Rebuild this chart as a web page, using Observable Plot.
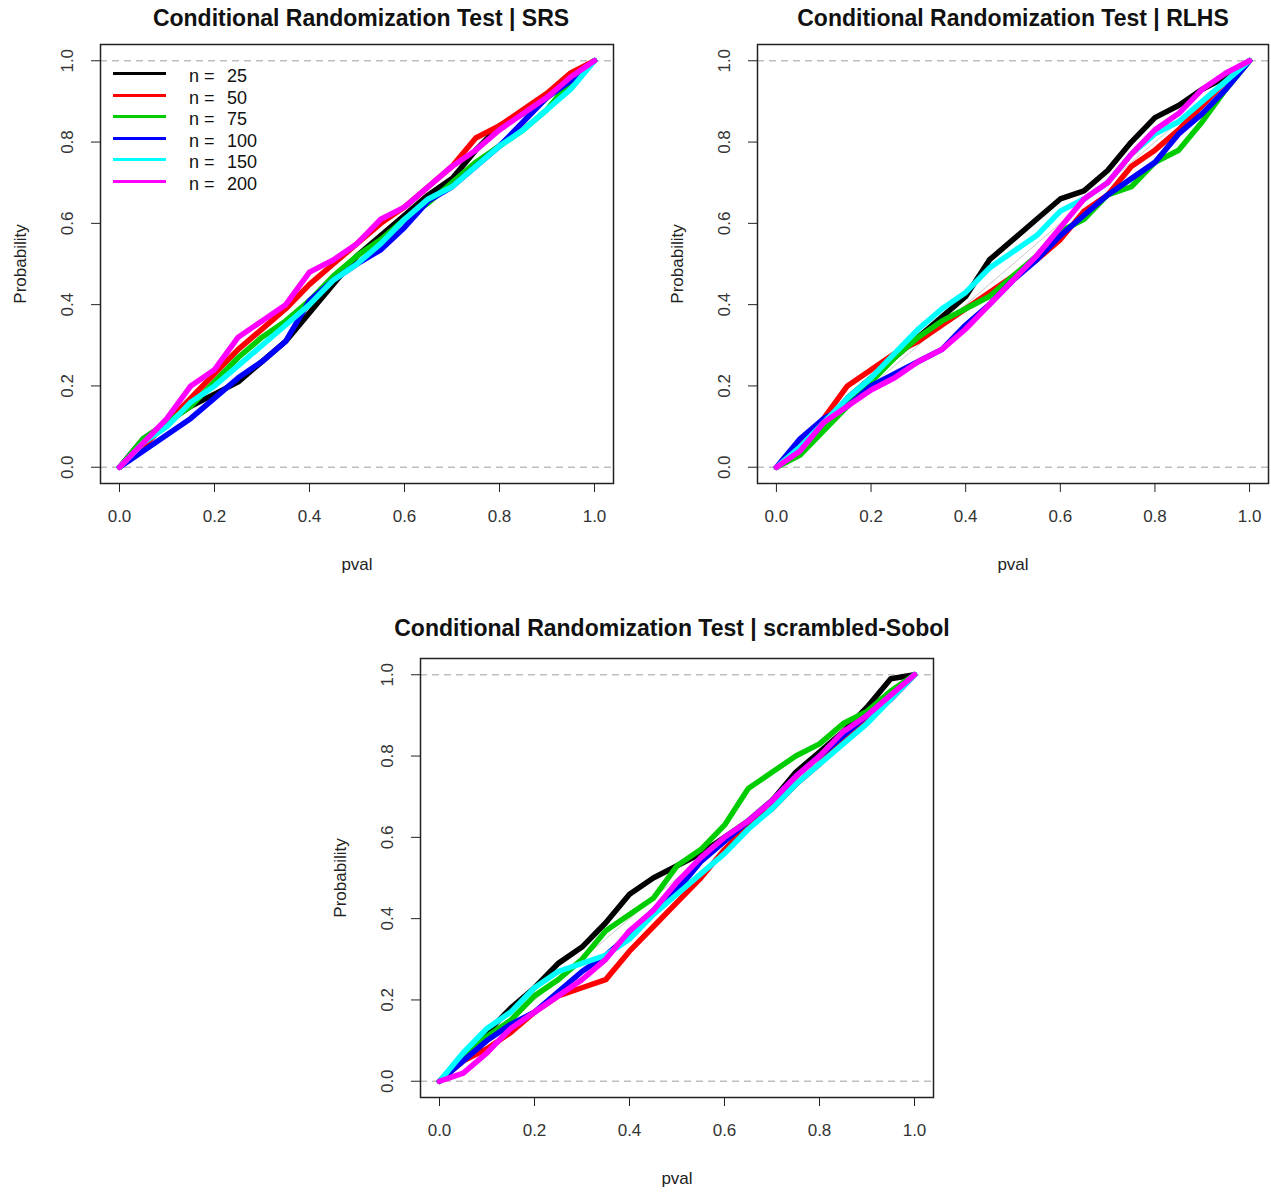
<!DOCTYPE html>
<html><head><meta charset="utf-8">
<script src="https://cdn.jsdelivr.net/npm/d3@7"></script>
<script src="https://cdn.jsdelivr.net/npm/@observablehq/plot@0.6"></script>
<style>
body{margin:0;background:#fff;}
#root{position:relative;width:1271px;height:1192px;overflow:hidden;font-family:"Liberation Sans",Arial,sans-serif;background:#fff;}
.panel{position:absolute;}
.title{position:absolute;font-weight:bold;font-size:23px;white-space:nowrap;transform:translate(-50%,-50%);color:#111;}
.legend{position:absolute;font-size:18px;color:#111;}
.legrow{position:absolute;height:22px;width:160px;}
.legrow .ln{position:absolute;left:0;width:53px;height:3px;top:9px;}
.legrow .t1{position:absolute;left:76px;top:2px;line-height:22px;}
.legrow .t2{position:absolute;left:114px;top:2px;line-height:22px;}
</style></head><body><div id="root"></div>
<script>
// ---- data ----
const pvalGrid = [0, 0.05, 0.1, 0.15, 0.2, 0.25, 0.3, 0.35, 0.4, 0.45, 0.5, 0.55, 0.6, 0.65, 0.7, 0.75, 0.8, 0.85, 0.9, 0.95, 1];
const sampleSizes = [25, 50, 75, 100, 150, 200];
const seriesColors = ["#000000", "#FF0000", "#00CD00", "#0000FF", "#00FFFF", "#FF00FF"];
const panelTitles = ["Conditional Randomization Test | SRS", "Conditional Randomization Test | RLHS", "Conditional Randomization Test | scrambled-Sobol"];
const xTicks = [0, 0.2, 0.4, 0.6, 0.8, 1.0];
const yTicks = [0, 0.2, 0.4, 0.6, 0.8, 1.0];

// SRS panel: estimated ECDF probability at each pval in pvalGrid
const srs25  = [0, .07, .11, .15, .18, .21, .26, .31, .38, .45, .52, .57, .62, .67, .71, .78, .84, .87, .91, .96, 1];
const srs50  = [0, .05, .11, .17, .23, .29, .34, .39, .45, .50, .55, .60, .64, .69, .74, .81, .84, .88, .92, .97, 1];
const srs75  = [0, .07, .11, .15, .21, .27, .32, .36, .41, .47, .52, .56, .61, .65, .70, .75, .79, .83, .88, .95, 1];
const srs100 = [0, .04, .08, .12, .17, .22, .26, .31, .41, .46, .50, .535, .59, .655, .69, .74, .79, .85, .91, .95, 1];
const srs150 = [0, .06, .10, .16, .20, .25, .30, .35, .40, .46, .50, .55, .61, .66, .69, .74, .79, .83, .88, .93, 1];
const srs200 = [0, .06, .12, .20, .24, .32, .36, .40, .48, .51, .55, .61, .64, .69, .74, .78, .83, .87, .91, .96, 1];

// RLHS panel
const rlhs25  = [0, .05, .10, .17, .22, .27, .32, .37, .42, .51, .56, .61, .66, .68, .73, .80, .86, .89, .93, .96, 1];
const rlhs50  = [0, .05, .12, .20, .24, .28, .31, .35, .39, .43, .47, .51, .56, .63, .67, .74, .78, .83, .89, .95, 1];
const rlhs75  = [0, .03, .09, .15, .21, .27, .32, .36, .39, .42, .47, .52, .58, .61, .67, .69, .75, .78, .85, .93, 1];
const rlhs100 = [0, .07, .12, .15, .20, .23, .26, .29, .35, .40, .46, .51, .57, .62, .67, .71, .75, .82, .87, .93, 1];
const rlhs150 = [0, .05, .11, .17, .22, .28, .34, .39, .43, .49, .53, .57, .63, .66, .70, .77, .82, .85, .90, .95, 1];
const rlhs200 = [0, .04, .11, .15, .19, .22, .26, .29, .34, .40, .46, .52, .59, .66, .70, .77, .83, .87, .93, .97, 1];

// scrambled-Sobol panel
const sobol25  = [0, .06, .12, .18, .23, .29, .33, .39, .46, .50, .53, .56, .60, .64, .69, .76, .81, .86, .92, .99, 1];
const sobol50  = [0, .05, .08, .12, .17, .21, .23, .25, .32, .38, .44, .50, .57, .63, .67, .73, .78, .84, .89, .94, 1];
const sobol75  = [0, .06, .11, .15, .21, .25, .30, .37, .41, .45, .53, .57, .63, .72, .76, .80, .83, .88, .91, .96, 1];
const sobol100 = [0, .05, .10, .14, .17, .22, .27, .31, .36, .42, .47, .54, .59, .64, .69, .75, .80, .85, .90, .94, 1];
const sobol150 = [0, .07, .13, .17, .23, .27, .29, .31, .35, .41, .46, .51, .56, .62, .67, .73, .78, .83, .88, .94, 1];
const sobol200 = [0, .02, .07, .13, .17, .21, .25, .30, .37, .42, .49, .55, .60, .64, .69, .75, .80, .86, .90, .95, 1];

const panelSeries = [
  [srs25, srs50, srs75, srs100, srs150, srs200],
  [rlhs25, rlhs50, rlhs75, rlhs100, rlhs150, rlhs200],
  [sobol25, sobol50, sobol75, sobol100, sobol150, sobol200]
];

// ---- layout ----
const panelBoxes = [
  {left: 0, top: 0, width: 630, marginRight: 17, titleX: 361, titleY: 18},
  {left: 657, top: 0, width: 614, marginRight: 3, titleX: 1013, titleY: 18},
  {left: 320, top: 614, width: 630, marginRight: 17, titleX: 672, titleY: 628}
];

const root = document.getElementById("root");
const fmt = d3.format(".1f");
const labels = sampleSizes.map(n => "n = " + n);

panelBoxes.forEach((box, i) => {
  const rows = [];
  panelSeries[i].forEach((vals, s) => {
    vals.forEach((q, k) => rows.push({p: pvalGrid[k], q, series: labels[s]}));
  });
  const chart = Plot.plot({
    width: box.width, height: 590,
    marginLeft: 100, marginRight: box.marginRight, marginTop: 44, marginBottom: 107,
    style: {fontFamily: "'Liberation Sans', Arial, sans-serif", fontSize: "17px", color: "#222", background: "transparent", overflow: "visible"},
    x: {domain: [-0.04, 1.04]},
    y: {domain: [-0.04, 1.04]},
    color: {domain: labels, range: seriesColors},
    marks: [
      Plot.ruleY([0, 1], {stroke: "#bdbdbd", strokeDasharray: "7,5", strokeWidth: 1.3}),
      Plot.line(pvalGrid, {x: d => d, y: d => d, stroke: "#c9c9c9", strokeWidth: 1}),
      Plot.line(rows, {x: "p", y: "q", z: "series", stroke: "series", strokeWidth: 5.5, strokeLinejoin: "round", strokeLinecap: "round"}),
      Plot.frame({stroke: "#222", strokeWidth: 1.5}),
      Plot.axisX({ticks: xTicks, tickFormat: fmt, tickSize: 9, tickPadding: 17, fontSize: 17, label: null, stroke: "#222", fill: "#333"}),
      Plot.axisY({ticks: yTicks, tickFormat: fmt, tickSize: 9, tickPadding: 19, fontSize: 17, tickRotate: -90, label: null, stroke: "#222", fill: "#333"}),
      Plot.text(["pval"], {frameAnchor: "bottom", lineAnchor: "middle", dy: 81, text: d => d, fill: "#222", fontSize: 17}),
      Plot.text(["Probability"], {frameAnchor: "left", textAnchor: "middle", lineAnchor: "middle", dx: -80, rotate: -90, text: d => d, fill: "#222", fontSize: 17})
    ]
  });
  const wrap = document.createElement("div");
  wrap.className = "panel";
  wrap.style.left = box.left + "px";
  wrap.style.top = box.top + "px";
  wrap.appendChild(chart);
  root.appendChild(wrap);

  const t = document.createElement("div");
  t.className = "title";
  t.style.left = box.titleX + "px";
  t.style.top = box.titleY + "px";
  t.textContent = panelTitles[i];
  root.appendChild(t);
});

// legend (first panel)
const leg = document.createElement("div");
leg.className = "legend";
leg.style.left = "113px";
leg.style.top = "63px";
sampleSizes.forEach((n, s) => {
  const r = document.createElement("div");
  r.className = "legrow";
  r.style.top = (s * 21.6) + "px";
  r.innerHTML = `<div class="ln" style="background:${seriesColors[s]}"></div><span class="t1">n =</span><span class="t2">${n}</span>`;
  leg.appendChild(r);
});
root.appendChild(leg);
</script></body></html>
